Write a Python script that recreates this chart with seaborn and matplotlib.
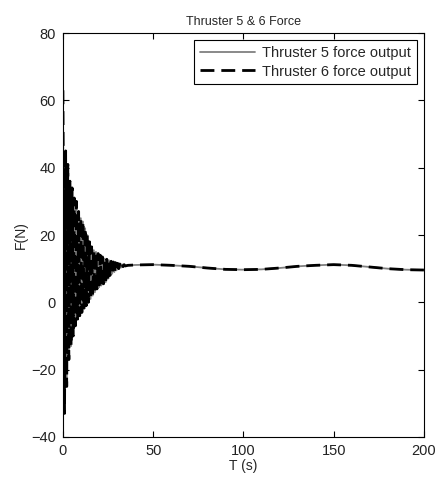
import numpy as np
import pandas as pd
import matplotlib
matplotlib.use("Agg")
import matplotlib.pyplot as plt
import seaborn as sns

# ---- data ----
peak_t = [0.0, 1.5, 2.7, 3.9, 5.1, 6.3, 7.5, 8.7, 9.9, 11.1, 12.3, 13.5, 14.7,
          15.9, 17.1, 18.3, 19.5, 20.7, 21.9, 23.1, 24.3, 25.5, 26.7, 27.9,
          29.1, 30.3, 31.5, 32.7, 33.9]
peak_v = [63, 45, 41, 36, 34, 31, 30, 27, 25, 24, 22, 20, 18, 16.5, 15.5, 15,
          14.5, 14, 13.5, 13, 12.8, 12.5, 12.2, 12, 11.8, 11.6, 11.4, 11.3, 11.2]
trough_t = [0.9, 2.1, 3.3, 4.5, 5.7, 6.9, 8.1, 9.3, 10.5, 11.7, 12.9, 14.1,
            15.3, 16.5, 17.7, 18.9, 20.1, 21.3, 22.5, 23.7, 24.9, 26.1, 27.3,
            28.5, 29.7, 30.9, 32.1, 33.3, 34.5]
trough_v = [-33, -25, -17, -13, -10, -7, -5, -4, -3, -2, -1, 0, 1, 2, 3, 4,
            4.5, 5, 5.5, 6, 7, 8, 8.5, 9, 9.5, 10, 10.3, 10.6, 10.8]
steady_t = [36, 40, 50, 60, 70, 80, 90, 100, 110, 120, 130, 140, 150, 160,
            170, 180, 190, 200]
steady_v = [11.0, 11.1, 11.2, 11.0, 10.7, 10.2, 9.8, 9.7, 9.8, 10.2, 10.7,
            11.0, 11.2, 11.0, 10.5, 10.0, 9.7, 9.6]

series_names = ["Thruster 5 force output", "Thruster 6 force output"]
x_ticks = [0, 50, 100, 150, 200]
y_ticks = [-40, -20, 0, 20, 40, 60, 80]

t_all = peak_t + trough_t + steady_t
v_all = peak_v + trough_v + steady_v
order = np.argsort(t_all)
t5 = np.array(t_all)[order]
v5 = np.array(v_all)[order]

frames = []
for name in series_names:
    frames.append(pd.DataFrame({"T": t5, "F": v5, "series": name}))
df = pd.concat(frames, ignore_index=True)

sns.set_style("white")
plt.rcParams['font.family'] = ['Liberation Sans', 'DejaVu Sans']

fig = plt.figure(figsize=(4.37, 4.82), dpi=100)
ax = fig.add_axes([0.144, 0.0934, 0.826, 0.838])

sns.lineplot(data=df[df.series == series_names[0]], x="T", y="F", ax=ax,
             color="#808080", linewidth=1.3, label=series_names[0],
             estimator=None, sort=False)
sns.lineplot(data=df[df.series == series_names[1]], x="T", y="F", ax=ax,
             color="black", linewidth=2.0, linestyle=(0, (5, 2.5)),
             label=series_names[1], estimator=None, sort=False)

ax.set_xlim(0, 200)
ax.set_ylim(-40, 80)
ax.set_xticks(x_ticks)
ax.set_yticks(y_ticks)
ax.tick_params(direction="in", length=4, width=0.8, labelsize=10.5, pad=5,
               top=True, right=True, bottom=True, left=True,
               colors="black", labelcolor="#222222")
for s in ax.spines.values():
    s.set_color("black")
    s.set_linewidth(0.8)
ax.set_xlabel("T (s)", fontsize=10, labelpad=1)
ax.set_ylabel("F(N)", fontsize=10, labelpad=2)
ax.set_title("Thruster 5 & 6 Force", fontsize=9, pad=6)

leg = ax.legend(loc="upper right", fontsize=10.5, frameon=True, fancybox=False,
                edgecolor="black", framealpha=1, borderpad=0.4,
                handlelength=3.8, handletextpad=0.45, labelspacing=0.3,
                borderaxespad=0.5)
leg.get_frame().set_linewidth(0.8)

fig.savefig("out.png", dpi=100)
